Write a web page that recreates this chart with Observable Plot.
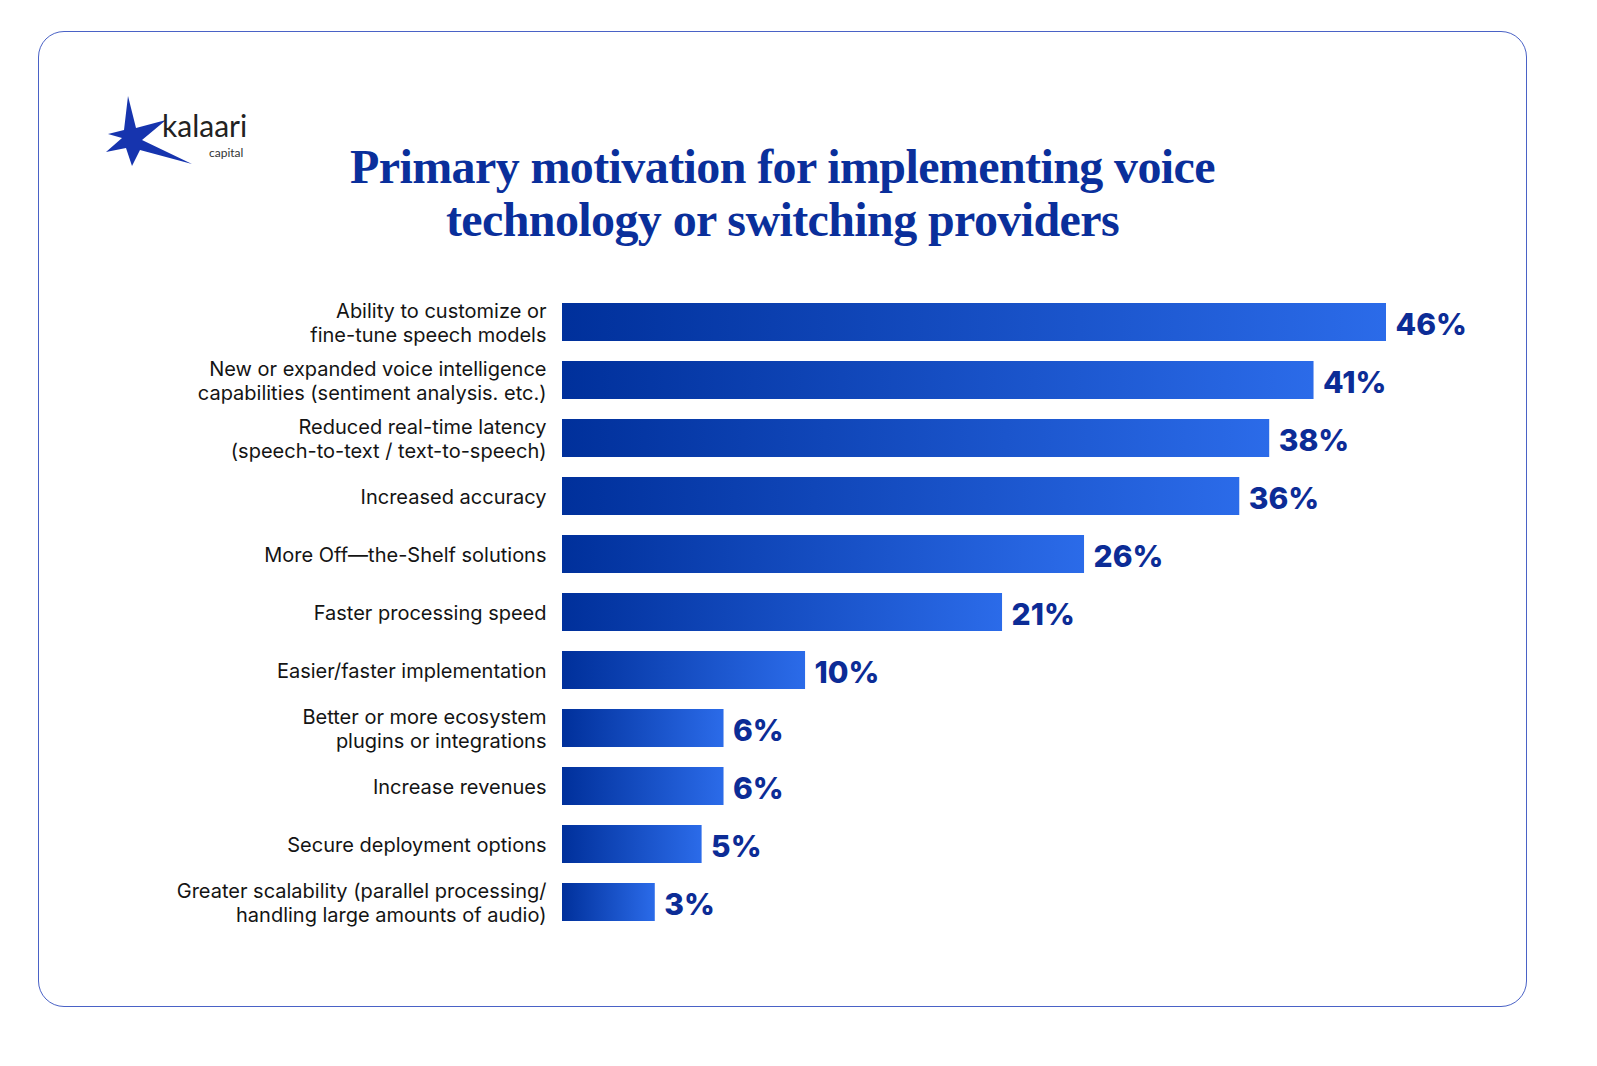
<!DOCTYPE html>
<html>
<head>
<meta charset="utf-8">
<script src="https://cdn.jsdelivr.net/npm/d3@7"></script>
<script src="https://cdn.jsdelivr.net/npm/@observablehq/plot@0.6"></script>
<style>
  html, body { margin: 0; padding: 0; background: #ffffff; }
  body { width: 1597px; height: 1066px; position: relative; overflow: hidden; }
  #card { position: absolute; left: 38px; top: 31px; width: 1489px; height: 976px;
          border: 1.6px solid #4a62c6; border-radius: 26px; box-sizing: border-box; background: #fff; }
  #title { position: absolute; left: 38px; width: 1489px; top: 140px; text-align: center;
           font-family: "Liberation Serif", "DejaVu Serif", serif; font-weight: bold;
           font-size: 48px; line-height: 53px; color: #0a2f9b; letter-spacing: -0.6px; }
  #logo { position: absolute; left: 100px; top: 90px; }
  #chart { position: absolute; left: 0; top: 0; }
</style>
</head>
<body>
<div id="card"></div>
<svg id="logo" width="170" height="85" viewBox="0 0 170 85">
  <path d="M28 6 L36 38 L66 30 L42 50 L92 74 L40 60 L32 76 L26 58 L6 62 L22 48 L8 44 L24 40 Z" fill="#1634ae"/>
  <text x="62" y="47" font-family="Lato, 'Noto Sans', sans-serif" font-size="30" fill="#222">kalaari</text>
  <text x="109" y="67" font-family="Lato, 'Noto Sans', sans-serif" font-size="12" fill="#333">capital</text>
</svg>
<div id="title">Primary motivation for implementing voice<br>technology or switching providers</div>
<div id="chart"></div>
<script>
const categories = [
  "Ability to customize or\nfine-tune speech models",
  "New or expanded voice intelligence\ncapabilities (sentiment analysis. etc.)",
  "Reduced real-time latency\n(speech-to-text / text-to-speech)",
  "Increased accuracy",
  "More Off\u2014the-Shelf solutions",
  "Faster processing speed",
  "Easier/faster implementation",
  "Better or more ecosystem\nplugins or integrations",
  "Increase revenues",
  "Secure deployment options",
  "Greater scalability (parallel processing/\nhandling large amounts of audio)"
];
const values = [46, 41, 38, 36, 26, 21, 10, 6, 6, 5, 3];
const valueLabels = ["46%", "41%", "38%", "36%", "26%", "21%", "10%", "6%", "6%", "5%", "3%"];

const data = categories.map((c, i) => ({category: c, value: values[i], label: valueLabels[i]}));

const chart = Plot.plot({
  width: 1597,
  height: 1066,
  marginLeft: 562,
  marginRight: 211,
  marginTop: 278,
  marginBottom: 120,
  style: {background: "transparent", overflow: "visible"},
  x: {type: "pow", exponent: 0.8, domain: [0, 46], axis: null},
  y: {domain: categories, padding: 0.35, axis: null},
  marks: [
    Plot.barX(data, {x: "value", y: "category", fill: "url(#barGrad)"}),
    Plot.text(data, {
      y: "category", text: "category", frameAnchor: "left", textAnchor: "end", dx: -16,
      fontSize: 20, lineHeight: 1.18, fill: "#141414",
      fontFamily: "Inter, 'Noto Sans', sans-serif"
    }),
    Plot.text(data, {
      x: "value", y: "category", text: "label", textAnchor: "start", dx: 9, dy: 3,
      fontSize: 30, fontWeight: 800, fill: "#0c2c96",
      fontFamily: "Inter, 'Noto Sans', sans-serif"
    })
  ]
});

const defs = document.createElementNS("http://www.w3.org/2000/svg", "defs");
defs.innerHTML = '<linearGradient id="barGrad" x1="0" y1="0" x2="1" y2="0">' +
  '<stop offset="0" stop-color="#00309b"/><stop offset="1" stop-color="#2b6be9"/></linearGradient>';
chart.insertBefore(defs, chart.firstChild);
document.getElementById("chart").appendChild(chart);
</script>
</body>
</html>
